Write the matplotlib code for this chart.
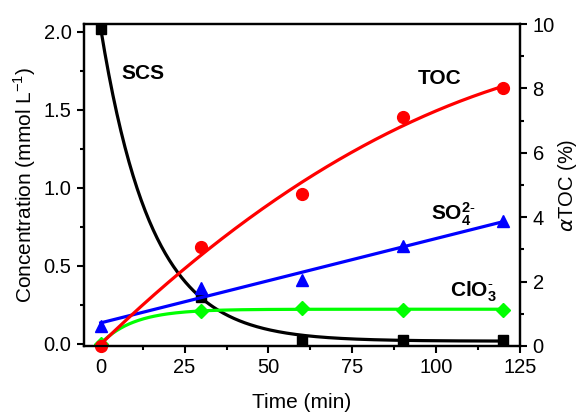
import numpy as np
import matplotlib
matplotlib.use("Agg")
from matplotlib import pyplot as plt
import matplotlib.ticker as ticker

plt.rcParams['font.family'] = ['Liberation Sans', 'DejaVu Sans']
plt.rcParams['mathtext.fontset'] = 'custom'
plt.rcParams['mathtext.rm'] = 'Liberation Sans'
plt.rcParams['mathtext.bf'] = 'Liberation Sans:bold'

# data
time = [0, 30, 60, 90, 120]
scs = [2.02, 0.30, 0.018, 0.022, 0.022]      # mmol/L
so4 = [0.11, 0.354, 0.41, 0.626, 0.786]      # mmol/L
clo3 = [0.0, 0.21, 0.225, 0.215, 0.215]      # mmol/L
toc = [0.0, 3.07, 4.71, 7.10, 8.0]           # alpha TOC (%)

# fitted curve parameters (estimated from the plotted lines)
scs_k, scs_inf = 0.066, 0.015
clo3_k, clo3_max = 0.10, 0.22

t = np.linspace(0, 120, 300)
scs_fit = scs_inf + (scs[0] - scs_inf) * np.exp(-scs_k * t)
clo3_fit = clo3_max * (1 - np.exp(-clo3_k * t))
so4_fit = np.polyval(np.polyfit(time, so4, 1), t)
toc_fit = np.polyval(np.polyfit(time, toc, 2), t)

fig = plt.figure(figsize=(5.8, 4.12), dpi=100)
ax = fig.add_axes([0.1448, 0.1602, 0.7518, 0.7815])
ax2 = ax.twinx()

lw = 2.3
ax.plot(t, scs_fit, color='black', lw=lw)
ax.plot(time, scs, 's', color='black', ms=7.5)
ax.plot(t, clo3_fit, color='#00ff00', lw=lw)
ax.plot(time, clo3, 'D', color='#00ff00', ms=7)
ax.plot(t, so4_fit, color='#0000ff', lw=lw)
ax.plot(time, so4, '^', color='#0000ff', ms=9)
ax2.plot(t, toc_fit, color='#ff0000', lw=lw)
ax2.plot(time, toc, 'o', color='#ff0000', ms=8.5, clip_on=False)

ax.set_xlim(-5, 125)
ax.set_ylim(-0.016, 2.05)
ax2.set_ylim(0, 10)

ax.xaxis.set_major_locator(ticker.MultipleLocator(25))
ax.xaxis.set_minor_locator(ticker.MultipleLocator(12.5))
ax.yaxis.set_major_locator(ticker.MultipleLocator(0.5))
ax.yaxis.set_minor_locator(ticker.MultipleLocator(0.25))
ax.yaxis.set_major_formatter(ticker.FormatStrFormatter('%.1f'))
ax2.yaxis.set_major_locator(ticker.MultipleLocator(2))
ax2.yaxis.set_minor_locator(ticker.MultipleLocator(1))

for a in (ax, ax2):
    for s in a.spines.values():
        s.set_linewidth(1.6)
    a.tick_params(which='major', direction='out', length=5, width=1.5, labelsize=14.5, pad=4)
    a.tick_params(which='minor', direction='out', length=3, width=1.5)
ax.tick_params(axis='y', which='both', right=False)
ax.tick_params(axis='x', which='both', top=False)

ax.set_xlabel('Time (min)', fontsize=15, labelpad=11)
ax.set_ylabel(r'Concentration (mmol L$^{\mathregular{-1}}$)', fontsize=15, labelpad=4)
ax2.set_ylabel(r'$\alpha$TOC (%)', fontsize=14.5, labelpad=1)

kw = dict(fontsize=15, fontweight='bold', ha='center', va='center')
ax.text(12.6, 1.73, 'SCS', **kw)
ax.text(101, 1.70, 'TOC', **kw)
ax.text(105, 0.83, r'$\mathbf{SO_4^{2\text{-}}}$', **kw)
ax.text(111, 0.33, r'$\mathbf{ClO_3^{\text{-}}}$', **kw)

fig.savefig('out.png', dpi=100)
